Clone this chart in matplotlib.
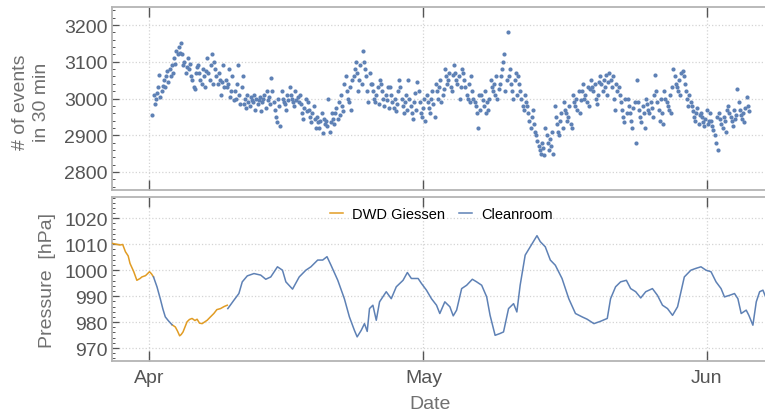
import datetime as dt
import numpy as np
import matplotlib
matplotlib.use("Agg")
import matplotlib.pyplot as plt
import matplotlib.dates as mdates
from matplotlib.ticker import AutoMinorLocator

# ---- data (days counted from 1 April) ----
# event counts, 8 samples per day, starting at day 0.35
counts_by_day = [
    [2955, 3010, 2985, 3000, 3015, 3030, 3065, 3005],
    [3020, 3035, 3050, 3030, 3060, 3075, 3045, 3080],
    [3060, 3090, 3070, 3110, 3095, 3130, 3120, 3140],
    [3125, 3150, 3120, 3090, 3100, 3070, 3085, 3110],
    [3080, 3095, 3060, 3050, 3030, 3025, 3070, 3085],
    [3090, 3070, 3050, 3040, 3080, 3060, 3030, 3075],
    [3110, 3070, 3050, 3090, 3120, 3040, 3100, 3080],
    [3060, 3040, 3070, 3050, 3010, 3045, 3090, 3030],
    [3050, 3030, 3040, 3080, 3005, 3020, 3060, 2995],
    [3020, 3000, 3040, 3090, 3010, 2985, 3030, 3060],
    [2985, 3000, 2975, 3010, 2990, 2980, 3005, 2995],
    [2990, 3010, 2970, 3000, 2985, 2995, 3005, 2965],
    [2990, 3000, 3010, 2975, 3020, 2995, 3005, 2985],
    [3055, 3020, 2990, 2970, 2950, 2935, 3000, 2980],
    [2925, 3020, 3000, 2990, 2985, 2970, 3010, 2995],
    [3030, 3010, 3000, 2990, 2980, 3020, 2995, 3005],
    [2990, 3010, 2985, 2960, 2945, 2975, 3000, 2965],
    [2990, 2970, 2950, 2935, 2960, 2980, 2945, 2920],
    [2950, 2935, 2920, 2940, 2960, 2905, 2945, 2930],
    [2940, 2925, 3000, 2910, 2935, 2960, 2945, 2930],
    [2960, 2975, 2945, 2990, 2955, 3010, 2980, 2965],
    [3040, 3060, 3020, 3000, 2990, 3030, 2970, 3050],
    [3060, 3080, 3100, 3070, 3020, 3050, 3090, 3040],
    [3128, 3100, 3080, 3060, 3020, 2990, 3070, 3040],
    [3040, 3020, 3000, 2990, 3010, 3030, 2985, 3050],
    [3040, 3020, 3000, 2980, 3010, 2995, 3030, 2975],
    [3030, 3010, 2990, 2975, 3000, 2965, 2985, 3020],
    [3050, 3030, 3000, 2980, 2960, 2990, 3010, 2970],
    [3050, 3000, 2980, 2960, 2945, 2990, 3015, 2970],
    [3045, 3020, 2990, 2960, 2950, 2975, 3000, 2940],
    [3010, 2990, 2975, 2960, 3000, 3020, 2985, 2950],
    [3040, 3020, 3000, 3030, 3050, 2990, 3010, 3025],
    [3080, 3060, 3040, 3050, 3070, 3030, 3020, 3065],
    [3090, 3070, 3050, 3040, 3060, 3000, 3030, 3080],
    [3070, 3050, 3030, 3010, 3000, 3040, 2990, 3060],
    [3020, 3000, 2990, 2980, 2960, 2920, 3010, 2970],
    [3010, 2995, 2980, 3020, 2960, 2990, 2970, 3000],
    [3050, 3030, 3020, 3040, 3010, 3060, 3000, 3025],
    [3040, 3060, 3080, 3100, 3120, 3020, 3050, 3181],
    [3060, 3080, 3040, 3020, 3000, 3050, 3070, 3010],
    [3060, 3040, 3020, 3000, 2980, 2970, 3010, 2990],
    [2980, 2960, 2940, 2920, 2950, 2970, 2930, 2910],
    [2900, 2885, 2870, 2860, 2850, 2880, 2865, 2845],
    [2920, 2900, 2880, 2860, 2890, 2870, 2910, 2850],
    [2980, 2950, 2930, 2910, 2900, 2940, 2960, 2920],
    [2990, 2970, 2960, 2940, 2950, 2980, 2930, 2920],
    [3010, 2990, 2980, 3000, 2970, 3020, 2960, 2995],
    [3020, 3040, 3000, 3010, 2990, 3030, 2980, 3025],
    [3050, 3030, 3020, 3040, 3000, 2985, 3010, 3045],
    [3060, 3040, 3020, 3050, 3030, 3065, 3010, 3045],
    [3070, 3050, 3030, 3060, 3000, 2970, 3040, 3020],
    [3030, 3010, 2990, 2970, 2950, 2935, 3000, 2960],
    [3000, 2980, 2960, 2940, 2920, 2975, 2990, 2880],
    [3050, 2990, 2970, 2950, 2935, 2980, 2960, 2920],
    [3000, 2985, 2970, 2960, 2990, 2975, 2950, 3010],
    [3065, 3020, 2990, 2970, 2940, 3000, 2960, 2930],
    [3020, 3000, 2990, 2980, 2970, 3010, 2960, 3030],
    [3080, 3060, 3040, 3030, 3020, 3050, 3010, 3070],
    [3075, 3060, 3040, 3020, 3000, 2980, 3010, 2990],
    [2980, 2965, 2950, 2940, 2960, 2975, 2930, 2955],
    [2960, 2950, 2935, 2925, 2945, 2970, 2930, 2940],
    [2960, 2940, 2925, 2915, 2900, 2880, 2950, 2860],
    [2960, 2945, 2930, 2920, 2950, 2940, 2910, 2970],
    [2980, 2960, 2950, 2940, 2925, 2970, 2945, 2955],
    [3025, 2990, 2970, 2955, 2945, 2960, 2935, 2975],
    [3003, 2980, 2965],
]

# pressure, DWD Giessen (two pieces)
dwd1_day = [-4.0, -3.6, -3.2, -2.9, -2.6, -2.3, -2.1, -1.7, -1.35, -1.0, -0.8,
            -0.4, 0.03, 0.25, 0.47]
dwd1_hpa = [1010.3, 1010.0, 1009.7, 1009.9, 1007.1, 1005.5, 1002.6, 999.5, 996.1,
            996.8, 997.4, 997.9, 999.4, 998.6, 997.4]
dwd2_day = [2.49, 2.86, 3.1, 3.33, 3.5, 3.70, 4.14, 4.4, 4.69, 5.0, 5.24, 5.5,
            5.79, 6.34, 6.7, 7.07, 7.4, 7.80, 8.2, 8.54]
dwd2_hpa = [979, 978.1, 976.5, 974.7, 975.2, 976.2, 980.1, 981.0, 981.4, 980.6,
            981.1, 979.6, 979.4, 980.7, 982.0, 983.3, 984.8, 985.2, 986.0, 986.5]

# pressure, cleanroom (two pieces)
clean1_day = [0.47, 0.85, 1.21, 1.5, 1.76, 2.1, 2.49]
clean1_hpa = [997.4, 993.6, 989, 985.0, 982, 980.5, 979]
clean2_day = [8.60, 9.26, 9.81, 10.18, 10.73, 11.46, 12.20, 12.75, 13.30, 14.03,
              14.58, 14.95, 15.68, 16.41, 17.14, 17.69, 18.43, 18.98, 19.45, 19.89,
              20.63, 21.35, 21.90, 22.45, 22.75, 23.19, 23.55, 23.85, 24.10, 24.47,
              24.84, 25.20, 25.93, 26.48, 27.03, 27.77, 28.24, 28.68, 29.42, 29.78,
              30.33, 30.88, 31.43, 31.79, 32.34, 32.89, 33.26, 33.63, 34.18, 34.73,
              35.35, 35.82, 36.37, 36.92, 37.29, 37.84, 38.38, 38.76, 39.31, 39.86,
              40.22, 40.58, 41.13, 41.68, 42.42, 42.78, 43.33, 43.88, 44.43, 45.16,
              45.90, 46.63, 47.36, 47.91, 48.65, 49.37, 50.11, 50.47, 51.02, 51.57,
              52.20, 52.67, 53.22, 53.77, 54.32, 55.05, 55.60, 56.15, 56.70, 57.25,
              57.80, 58.54, 59.26, 59.81, 60.36, 60.91, 61.46, 62.01, 62.56, 62.93,
              63.48, 64.03, 64.40, 64.76, 65.31, 65.60, 66.04, 66.41, 66.78, 67.14,
              67.51, 67.69]
clean2_hpa = [985.2, 988.4, 991, 995.5, 997.8, 998.7, 998.1, 996.5, 997.4, 1001.3,
              1000, 995.5, 992.7, 997.4, 1000, 1001.3, 1003.9, 1003.9, 1005.2, 1001.9,
              996.1, 989, 982, 976.8, 974.3, 976.8, 979.4, 976.4, 985.2, 986.5,
              980.7, 987.8, 991.7, 989, 993.6, 996.1, 999.1, 996.8, 996.8, 994.9,
              992.3, 989, 986.5, 983.3, 987.8, 985.9, 982.4, 984.6, 992.9, 994.2,
              996.5, 995.5, 994.2, 989.7, 982.6, 974.9, 975.6, 976.2, 985.2, 987.1,
              983.9, 994.2, 1005.8, 1009, 1013.3, 1011, 1009, 1003.9, 1001.9, 996.8,
              989, 983.3, 982, 981.1, 979.4, 980.3, 981.4, 989, 993.6, 995.5,
              996.1, 992.9, 991.7, 989.3, 991.7, 992.9, 990.3, 986.5, 985.2, 982.6,
              985.9, 997.4, 1000, 1000.7, 1001.3, 1000, 999.4, 995.5, 992.9, 989.7,
              990.3, 991, 989, 983.3, 984.6, 982.6, 978.8, 987.8, 991.7, 992.3,
              989, 986.5]

BLUE = '#5E81B5'
ORANGE = '#E19C24'
FRAME = '#b4b4b4'
TICK = '#555555'
LABEL = '#707070'
GRID = '#d4d4d4'

plt.rcParams['font.family'] = ['Liberation Sans', 'DejaVu Sans']

base = mdates.date2num(dt.datetime(2019, 4, 1))

counts = [c for day in counts_by_day for c in day]
count_t = base + 0.35 + np.arange(len(counts)) / 8.0

fig = plt.figure(figsize=(7.65, 4.14), dpi=100)
ax1 = fig.add_axes([112 / 765, 1 - 191 / 414, 1.004 - 112 / 765, 183 / 414])
ax2 = fig.add_axes([112 / 765, 1 - 362 / 414, 1.004 - 112 / 765, 164 / 414])

ax1.scatter(count_t, counts, s=9, color=BLUE, linewidths=0, zorder=3)

ax2.plot(base + np.array(dwd1_day), dwd1_hpa, color=ORANGE, lw=1.1, zorder=3,
         label='DWD Giessen')
ax2.plot(base + np.array(dwd2_day), dwd2_hpa, color=ORANGE, lw=1.1, zorder=3)
ax2.plot(base + np.array(clean1_day), clean1_hpa, color=BLUE, lw=1.1, zorder=3,
         label='Cleanroom')
ax2.plot(base + np.array(clean2_day), clean2_hpa, color=BLUE, lw=1.1, zorder=3)

xmin = base - 4.07
xmax = base + 67.7
months = [mdates.date2num(dt.datetime(2019, m, 1)) for m in (4, 5, 6)]

for ax in (ax1, ax2):
    ax.set_xlim(xmin, xmax)
    ax.set_xticks(months)
    for s in ax.spines.values():
        s.set_color(FRAME)
        s.set_linewidth(1.3)
    ax.grid(True, color=GRID, linestyle=':', linewidth=0.9)
    ax.tick_params(axis='x', direction='in', top=True, bottom=True, length=7,
                   width=1.0, color=TICK, labelcolor=TICK, labelsize=14, pad=6)
    ax.tick_params(axis='y', which='major', direction='in', length=5, width=0.9,
                   color=TICK, labelcolor=TICK, labelsize=14, pad=3)
    ax.tick_params(axis='y', which='minor', direction='in', length=2.5, width=0.7,
                   color=TICK)
    ax.yaxis.set_minor_locator(AutoMinorLocator(5))

ax1.set_ylim(2751, 3249)
ax1.set_yticks([2800, 2900, 3000, 3100, 3200])
ax1.set_xticklabels([])

ax2.set_ylim(965, 1028.2)
ax2.set_yticks([970, 980, 990, 1000, 1010, 1020])
ax2.set_xticklabels(['Apr', 'May', 'Jun'])

leg = ax2.legend(loc='upper center', bbox_to_anchor=(0.502, 1.0), ncol=2,
                 frameon=False, fontsize=10.5, handlelength=0.9,
                 handletextpad=0.6, columnspacing=1.0, borderaxespad=0.3)

fig.text(31 / 765, 1 - 102 / 414, '# of events\nin 30 min', rotation=90,
         ha='center', va='center', fontsize=14, color=LABEL, linespacing=1.35)
fig.text(48 / 765, 1 - 280 / 414, 'Pressure  [hPa]', rotation=90,
         ha='center', va='center', fontsize=14, color=LABEL)
fig.text(430 / 765, 1 - 405 / 414, 'Date', ha='center', va='center',
         fontsize=14, color=LABEL)

fig.savefig('out.png', dpi=100)
